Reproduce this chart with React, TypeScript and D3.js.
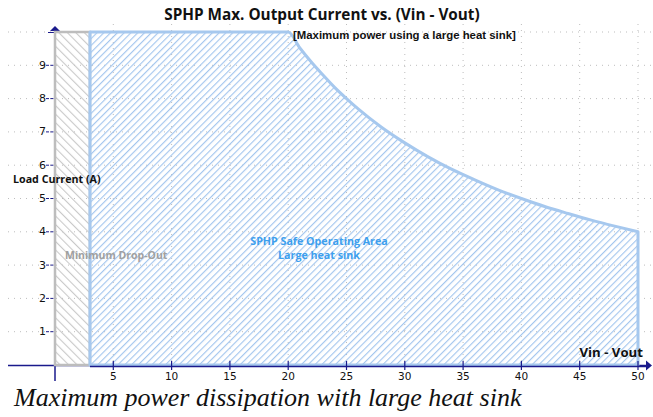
import React from 'react';
import * as d3 from 'd3';

const xTicks = [5, 10, 15, 20, 25, 30, 35, 40, 45, 50];
const yTicks = [1, 2, 3, 4, 5, 6, 7, 8, 9];
const gridY = [1, 2, 3, 4, 5, 6, 7, 8, 9, 10];
const dropOutV = [0, 3];
const maxCurrentA = 10;
const socV = [3, 20, 21, 22, 23, 24, 25, 26, 28, 30, 32, 34, 36, 38, 40, 42, 44, 46, 48, 50];
const socA = [10, 10, 9.52, 9.09, 8.7, 8.33, 8.0, 7.69, 7.14, 6.67, 6.25, 5.88, 5.56, 5.26, 5.0, 4.76, 4.55, 4.35, 4.17, 4.0];

const W = 653;
const H = 417;

export default function App() {
  const x = d3.scaleLinear().domain([0, 50]).range([55, 638]);
  const y = d3.scaleLinear().domain([0, 10]).range([365, 32]);

  const pts = socV.map((v, i) => ({ v, a: socA[i] }));
  const area = d3
    .area<{ v: number; a: number }>()
    .x((d) => x(d.v))
    .y0(y(0))
    .y1((d) => y(d.a))
    .curve(d3.curveMonotoneX);

  const navy = '#1a1a8c';
  const blue = '#a6c8ee';
  const gray = '#bdbdbd';

  return (
    <svg
      width={W}
      height={H}
      style={{ position: 'absolute', left: 0, top: 0, background: '#fff' }}
    >
      <defs>
        <pattern id="hatchBlue" patternUnits="userSpaceOnUse" width={4.8} height={4.8} patternTransform="rotate(45)">
          <line x1={0.6} y1={0} x2={0.6} y2={4.8} stroke="#9fc3ee" strokeWidth={1.1} />
        </pattern>
        <pattern id="hatchGray" patternUnits="userSpaceOnUse" width={6} height={6} patternTransform="rotate(-45)">
          <line x1={0.6} y1={0} x2={0.6} y2={6} stroke="#c4c4c4" strokeWidth={1} />
        </pattern>
      </defs>
      <rect x={0} y={0} width={W} height={H} fill="#fff" />

      {/* grid */}
      <g stroke="#bdbdbd" strokeWidth={1} strokeDasharray="1,5">
        {gridY.map((t) => (
          <line key={'gy' + t} x1={8} x2={652} y1={y(t)} y2={y(t)} />
        ))}
        {xTicks.map((t) => (
          <line key={'gx' + t} x1={x(t)} x2={x(t)} y1={24} y2={365} />
        ))}
      </g>

      {/* axes */}
      <line x1={8} x2={646} y1={365.5} y2={365.5} stroke={navy} strokeWidth={1.5} />
      <path d={`M646,360.5 L652,365.5 L646,370.5 Z`} fill={navy} />
      <line x1={55} x2={55} y1={30} y2={381} stroke={navy} strokeWidth={1.5} />
      <path d={`M50,31 L55,26 L60,31 Z`} fill={navy} />
      <line x1={48} x2={55} y1={32.5} y2={32.5} stroke={navy} strokeWidth={1} />

      {/* y ticks */}
      {yTicks.map((t) => (
        <g key={'yt' + t}>
          <line x1={46} x2={55} y1={y(t)} y2={y(t)} stroke={navy} strokeWidth={1} strokeDasharray="3,1.5" />
          <text x={46} y={y(t) + 3.5} textAnchor="end" fontFamily="DejaVu Sans" fontSize={11} fill="#111">
            {t}
          </text>
        </g>
      ))}

      {/* drop-out region */}
      <rect
        x={x(dropOutV[0])}
        y={y(maxCurrentA)}
        width={x(dropOutV[1]) - x(dropOutV[0])}
        height={y(0) - y(maxCurrentA)}
        fill="url(#hatchGray)"
        stroke={gray}
        strokeWidth={2.5}
      />

      {/* safe operating area */}
      <path d={area(pts) || ''} fill="url(#hatchBlue)" stroke={blue} strokeWidth={3} strokeLinejoin="round" />

      <line x1={x(3)} x2={646} y1={366.5} y2={366.5} stroke={navy} strokeWidth={1.3} />

      {/* x ticks */}
      {xTicks.map((t) => (
        <g key={'xt' + t}>
          <line x1={x(t)} x2={x(t)} y1={361} y2={370} stroke={navy} strokeWidth={1.2} />
          <text x={x(t)} y={380} textAnchor="middle" fontFamily="DejaVu Sans" fontSize={10.5} fill="#111">
            {t}
          </text>
        </g>
      ))}

      {/* texts */}
      <text x={322} y={20} textAnchor="middle" fontFamily="Open Sans" fontWeight="bold" fontSize={15.3} fill="#111">
        SPHP Max. Output Current vs. (Vin - Vout)
      </text>
      <text x={293} y={38.5} fontFamily="Liberation Sans" fontWeight="bold" fontSize={11.4} fill="#111">
        [Maximum power using a large heat sink]
      </text>
      <text x={13} y={182.5} fontFamily="Open Sans" fontWeight="bold" fontSize={10.7} fill="#111">
        Load Current (A)
      </text>
      <text x={65} y={259} fontFamily="Open Sans" fontWeight="bold" fontSize={10.5} fill="#a0a0a0">
        Minimum Drop-Out
      </text>
      <text x={319} y={245} textAnchor="middle" fontFamily="Open Sans" fontWeight="bold" fontSize={10.7} fill="#3d9fee">
        SPHP Safe Operating Area
      </text>
      <text x={319} y={259} textAnchor="middle" fontFamily="Open Sans" fontWeight="bold" fontSize={10.7} fill="#3d9fee">
        Large heat sink
      </text>
      <text x={643} y={357} textAnchor="end" fontFamily="Open Sans" fontWeight="bold" fontSize={13.2} fill="#111">
        Vin - Vout
      </text>
      <text x={14} y={406} fontFamily="Liberation Serif" fontStyle="italic" fontSize={26} fill="#111">
        Maximum power dissipation with large heat sink
      </text>
    </svg>
  );
}
